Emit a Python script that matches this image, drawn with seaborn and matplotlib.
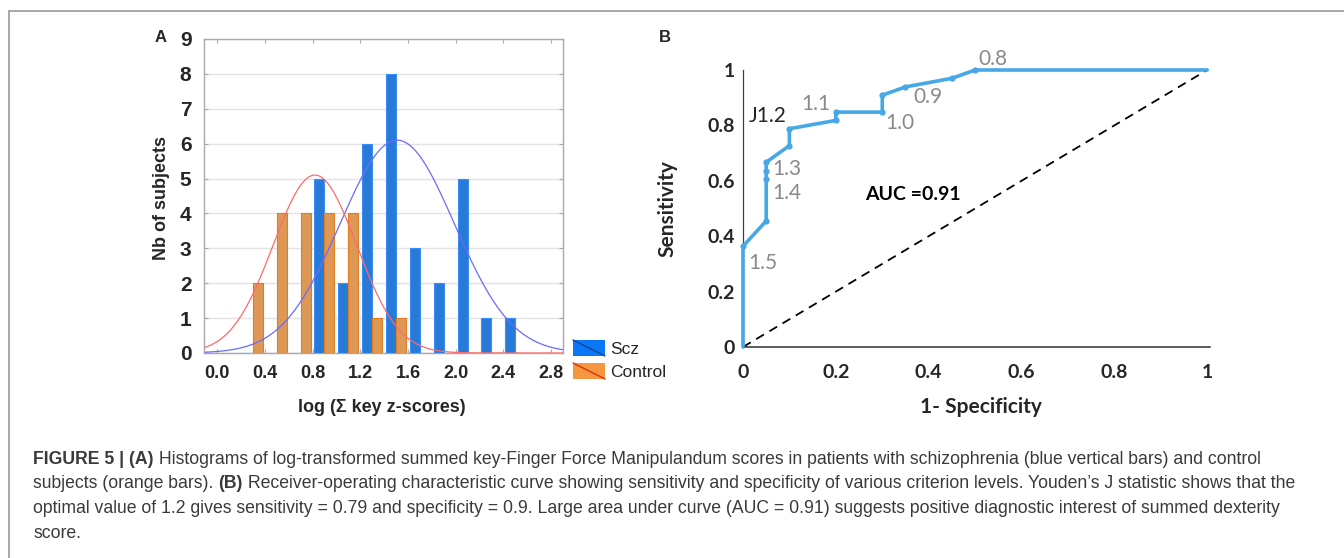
import numpy as np
import pandas as pd
import matplotlib
matplotlib.use("Agg")
import matplotlib.pyplot as plt
import seaborn as sns
from matplotlib.patches import Rectangle
from matplotlib.lines import Line2D
from matplotlib.legend_handler import HandlerBase

# ---- panel A: histogram of log summed z-scores ----
bin_centers = [0.3, 0.5, 0.7, 0.9, 1.1, 1.3, 1.5, 1.7, 1.9, 2.1, 2.3, 2.5]
scz_counts = [0, 0, 0, 5, 2, 6, 8, 3, 2, 5, 1, 1]
control_counts = [2, 4, 4, 4, 4, 1, 1, 0, 0, 0, 0, 0]
groups = ["Scz", "Control"]
x_ticks = [0.0, 0.4, 0.8, 1.2, 1.6, 2.0, 2.4, 2.8]

# fitted normal curves: (peak height, mean, sd)
scz_fit = (6.1, 1.51, 0.48)
control_fit = (5.1, 0.82, 0.35)

# ---- panel B: ROC curve ----
fpr = [0, 0, 0.05, 0.05, 0.05, 0.05, 0.10, 0.10, 0.20, 0.20, 0.30, 0.30, 0.35, 0.45, 0.50, 1.0]
tpr = [0, 0.364, 0.455, 0.606, 0.636, 0.667, 0.727, 0.788, 0.818, 0.848, 0.848, 0.909, 0.939, 0.970, 1.0, 1.0]
cut_labels = ["0.8", "0.9", "1.1", "1.0", "1.3", "1.4", "1.5"]
cut_xy = [(0.508, 1.018), (0.368, 0.880), (0.126, 0.855), (0.306, 0.786),
          (0.062, 0.620), (0.062, 0.534), (0.011, 0.283)]
roc_ticks = [0, 0.2, 0.4, 0.6, 0.8, 1]
roc_ticklabels = ["0", "0.2", "0.4", "0.6", "0.8", "1"]

BLUE = "#0a78f5"
ORANGE = "#f5973f"
ROC_BLUE = "#46a8e6"

sns.set_style("white")
plt.rcParams["font.family"] = ["Liberation Sans", "DejaVu Sans"]

W, H = 1344, 558
fig = plt.figure(figsize=(W / 100, H / 100), dpi=100)


def fbox(left, top, right, bottom):
    return [left / W, 1 - bottom / H, (right - left) / W, (bottom - top) / H]


class DiagonalHandler(HandlerBase):
    def create_artists(self, legend, orig_handle, xdescent, ydescent,
                       width, height, fontsize, trans):
        box = Rectangle((-xdescent, -ydescent), width, height,
                        facecolor=orig_handle.get_facecolor(), edgecolor="none",
                        transform=trans)
        diag = Line2D([-xdescent, -xdescent + width], [-ydescent + height, -ydescent],
                      color=orig_handle.get_edgecolor(), lw=1.0, transform=trans)
        return [box, diag]


# ================= panel A =================
axA = fig.add_axes(fbox(204, 39, 563, 353))
hist = pd.DataFrame({
    "bin": bin_centers * 2,
    "count": scz_counts + control_counts,
    "group": ["Scz"] * len(bin_centers) + ["Control"] * len(bin_centers),
})
sns.barplot(data=hist, x="bin", y="count", hue="group", hue_order=groups,
            palette=[BLUE, ORANGE], native_scale=True, width=0.84,
            errorbar=None, legend=False, ax=axA, zorder=3, linewidth=0.8)
for cont, ec in zip(axA.containers, ["#3b8ef7", "#e07d22"]):
    for bar in cont:
        bar.set_edgecolor(ec)

xs = np.linspace(-0.1, 2.9, 300)
for (peak, mu, sd), col in [(scz_fit, "#6a6aff"), (control_fit, "#ff6a6a")]:
    sns.lineplot(x=xs, y=peak * np.exp(-0.5 * ((xs - mu) / sd) ** 2),
                 color=col, lw=0.9, ax=axA, zorder=4)

axA.set_xlim(-0.11, 2.9)
axA.set_ylim(0, 9)
axA.set_xticks(x_ticks)
axA.set_xticklabels([f"{t:.1f}" for t in x_ticks])
axA.set_yticks(range(10))
axA.yaxis.grid(True, color="#e3e3e3", lw=1, zorder=0)
axA.set_axisbelow(True)
for sp in axA.spines.values():
    sp.set_color("#a8a8a8")
    sp.set_linewidth(1)
axA.tick_params(axis="x", direction="in", length=3, color="#a8a8a8", top=True,
                bottom=True, labelsize=13, pad=9)
axA.tick_params(axis="y", direction="in", length=3, color="#a8a8a8", left=True,
                right=True, labelsize=15, pad=9)
for lab in axA.get_xticklabels() + axA.get_yticklabels():
    lab.set_fontweight("bold")
axA.set_xlabel("log (Σ key z-scores)", fontsize=13, fontweight="bold")
axA.set_ylabel("Nb of subjects", fontsize=13, fontweight="bold")
axA.xaxis.set_label_coords(0.496, -0.145)
axA.yaxis.set_label_coords(-0.094, 0.493)

handles = [Rectangle((0, 0), 1, 1, facecolor=BLUE, edgecolor="#1040a0"),
           Rectangle((0, 0), 1, 1, facecolor=ORANGE, edgecolor="#e03010")]
fig.legend(handles, groups, handler_map={Rectangle: DiagonalHandler()},
           loc="upper left", bbox_to_anchor=(573 / W, 1 - 340 / H),
           bbox_transform=fig.transFigure, frameon=False, fontsize=12.5,
           borderpad=0, borderaxespad=0, handlelength=1.84, handleheight=1.04,
           handletextpad=0.3, labelspacing=0.35)

fig.text(155 / W, 1 - 41.5 / H, "A", fontsize=12, fontweight="bold", va="baseline")

# ================= panel B =================
FB = ["Lato", "DejaVu Sans"]
axB = fig.add_axes(fbox(743, 70, 1210, 347))
sns.lineplot(x=[0, 1], y=[0, 1], color="black", lw=1.3, linestyle=(0, (5, 3.5)),
             ax=axB, zorder=2)
sns.lineplot(x=fpr, y=tpr, sort=False, estimator=None, color=ROC_BLUE, lw=2.6,
             marker="o", markersize=4.5, markeredgewidth=0,
             markevery=list(range(1, len(fpr) - 1)), ax=axB, zorder=3, clip_on=False)
axB.set_xlim(0, 1.006)
axB.set_ylim(0, 1)
axB.set_xticks(roc_ticks)
axB.set_xticklabels(roc_ticklabels)
axB.set_yticks(roc_ticks)
axB.set_yticklabels(roc_ticklabels)
axB.tick_params(length=0, labelsize=14)
axB.tick_params(axis="x", pad=12)
axB.tick_params(axis="y", pad=6)
for lab in axB.get_xticklabels() + axB.get_yticklabels():
    lab.set_fontweight("bold")
    lab.set_family(FB)
sns.despine(ax=axB)
axB.spines["left"].set_color("#404040")
axB.spines["left"].set_linewidth(0.9)
axB.spines["bottom"].set_color("#303030")
axB.spines["bottom"].set_linewidth(1.1)
axB.set_xlabel("1- Specificity", fontsize=15, fontweight="bold", family=FB)
axB.set_ylabel("Sensitivity", fontsize=15, fontweight="bold", family=FB)
axB.xaxis.set_label_coords(0.509, -0.18)
axB.yaxis.set_label_coords(-0.14, 0.5)

for txt, (tx, ty) in zip(cut_labels, cut_xy):
    axB.text(tx, ty, txt, color="#8a8a8a", fontsize=15, family=FB,
             va="baseline", ha="left", clip_on=False)
axB.text(0.012, 0.813, "J1.2", color="#262626", fontsize=15, family=FB,
         va="baseline", ha="left")
axB.text(0.264, 0.530, "AUC =0.91", color="black", fontsize=14, fontweight="bold",
         family=FB, va="baseline", ha="left")

fig.text(659 / W, 1 - 41.5 / H, "B", fontsize=12, fontweight="bold", va="baseline")

# ================= caption and frame =================
fig.add_artist(Line2D([9 / W, 9 / W], [0, 1 - 11 / H], color="#9a9a9a", lw=1.2))
fig.add_artist(Line2D([9 / W, 1], [1 - 11 / H, 1 - 11 / H], color="#9a9a9a", lw=1.2))

caption = [
    [("FIGURE 5 | (A)", True),
     (" Histograms of log-transformed summed key-Finger Force Manipulandum scores in "
      "patients with schizophrenia (blue vertical bars) and control", False)],
    [("subjects (orange bars). ", False), ("(B)", True),
     (" Receiver-operating characteristic curve showing sensitivity and specificity of "
      "various criterion levels. Youden\u2019s J statistic shows that the", False)],
    [("optimal value of 1.2 gives sensitivity = 0.79 and specificity = 0.9. Large area "
      "under curve (AUC = 0.91) suggests positive diagnostic interest of summed dexterity",
      False)],
    [("score.", False)],
]
for i, parts in enumerate(caption):
    base = 464 + 24.5 * i
    prev = None
    for text, bold in parts:
        kw = dict(fontsize=12.7, color="#3a3a3a", fontweight="bold" if bold else "normal")
        if prev is None:
            prev = fig.text(33 / W, 1 - base / H, text, va="baseline", ha="left", **kw)
        else:
            prev = axA.annotate(text, xy=(1, 0), xycoords=prev, va="bottom", ha="left", **kw)

fig.savefig("out.png", dpi=100)
